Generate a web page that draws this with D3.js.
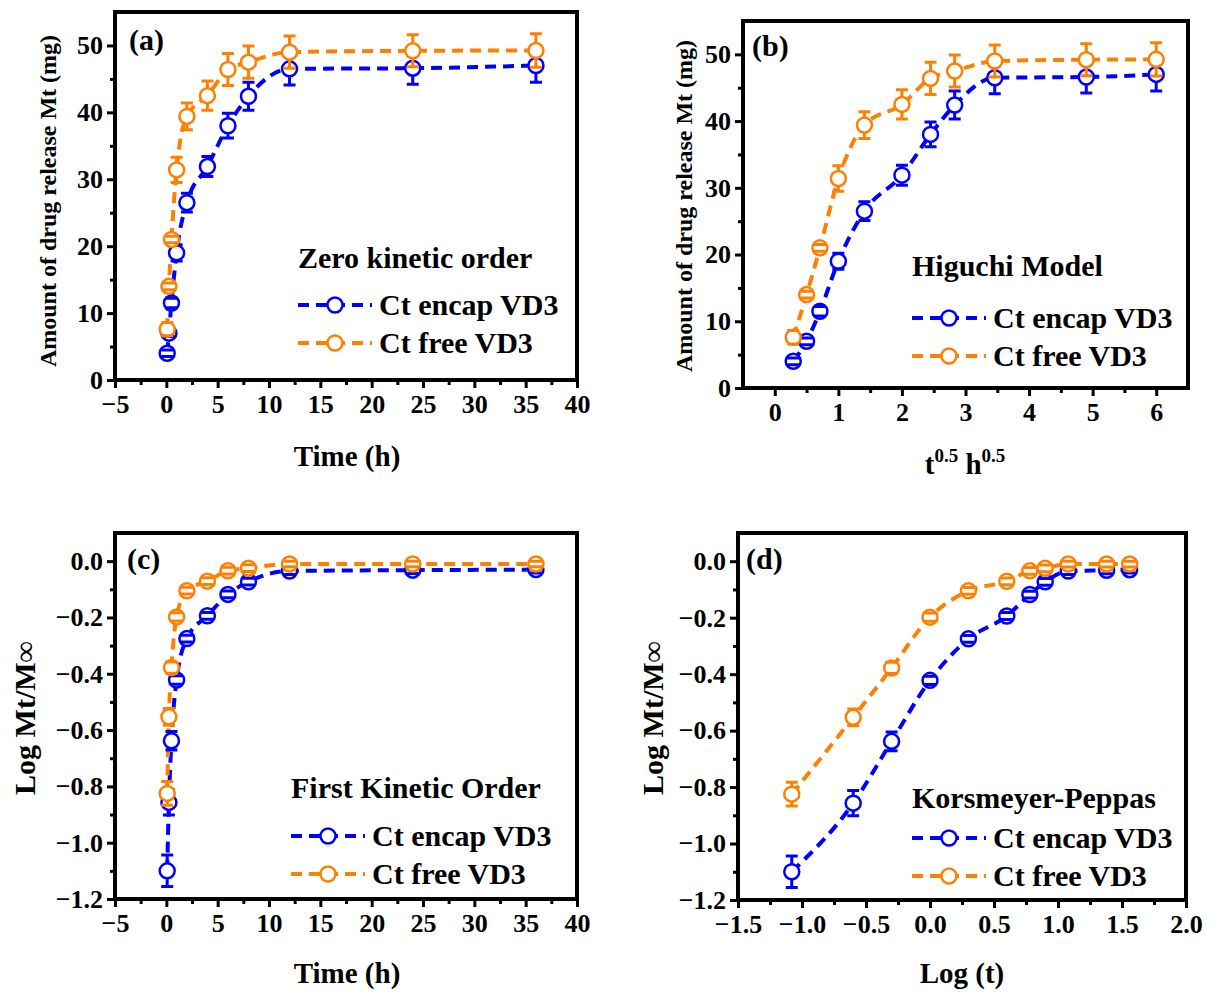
<!DOCTYPE html>
<html>
<head>
<meta charset="utf-8">
<script src="https://cdn.jsdelivr.net/npm/d3@7"></script>
<style>
  body { margin: 0; background: #fff; }
  text { font-family: "Liberation Serif", "Times New Roman", serif; font-weight: bold; fill: #000; }
</style>
</head>
<body>
<svg id="chart" width="1223" height="992"></svg>
<script>
// sampling times (h) and their transforms as plotted
var times = [0.083, 0.25, 0.5, 1, 2, 4, 6, 8, 12, 24, 36];
var sqrtTimes = [0.29, 0.5, 0.71, 1, 1.41, 2, 2.45, 2.83, 3.46, 4.9, 6];
var logTimes = [-1.08, -0.6, -0.3, 0, 0.3, 0.6, 0.78, 0.9, 1.08, 1.38, 1.56];

// amount released (mg)
var encapMt = [4, 7, 11.5, 19, 26.5, 31.9, 38, 42.4, 46.5, 46.6, 47];
var encapMtErr = [0.5, 0.5, 0.7, 1.2, 1.4, 1.5, 1.85, 2.1, 2.4, 2.4, 2.5];
var freeMt = [7.6, 14, 21, 31.4, 39.4, 42.5, 46.4, 47.5, 49, 49.2, 49.25];
var freeMtErr = [1, 0.5, 0.5, 1.9, 2, 2.2, 2.4, 2.4, 2.4, 2.4, 2.5];

// log Mt/Minf
var encapLog = [-1.10, -0.857, -0.638, -0.422, -0.275, -0.194, -0.118, -0.073, -0.035, -0.032, -0.03];
var encapLogErr = [0.056, 0.045, 0.033, 0.015, 0.012, 0.012, 0.012, 0.012, 0.012, 0.012, 0.012];
var freeLog = [-0.825, -0.553, -0.378, -0.198, -0.105, -0.071, -0.034, -0.025, -0.01, -0.01, -0.01];
var freeLogErr = [0.042, 0.03, 0.02, 0.015, 0.012, 0.012, 0.012, 0.012, 0.01, 0.01, 0.01];

var seriesNames = ["Ct encap VD3", "Ct free VD3"];
var colors = ["#0000ff", "#ff8000"];

var svg = d3.select("#chart");

function drawPanel(p) {
    var x = d3.scaleLinear().domain(p.xDomain).range([p.box[0], p.box[1]]);
    var y = d3.scaleLinear().domain(p.yDomain).range([p.box[3], p.box[2]]);
    var g = svg.append("g");

    // minor ticks
    g.append("g").attr("transform", "translate(0," + p.box[3] + ")")
        .call(d3.axisBottom(x).tickValues(p.xMinor).tickSize(5).tickFormat(""))
        .call(function (a) { a.select(".domain").remove(); a.selectAll("line").attr("stroke-width", 3); });
    g.append("g").attr("transform", "translate(" + p.box[0] + ",0)")
        .call(d3.axisLeft(y).tickValues(p.yMinor).tickSize(5).tickFormat(""))
        .call(function (a) { a.select(".domain").remove(); a.selectAll("line").attr("stroke-width", 3); });

    // major ticks
    g.append("g").attr("transform", "translate(0," + p.box[3] + ")")
        .call(d3.axisBottom(x).tickValues(p.xTicks).tickSize(8).tickPadding(7).tickFormat(p.xFormat))
        .call(function (a) {
            a.select(".domain").remove();
            a.selectAll("line").attr("stroke-width", 3);
            a.selectAll("text").style("font-size", "26px").style("font-family", "Liberation Serif").style("font-weight", "bold");
        });
    g.append("g").attr("transform", "translate(" + p.box[0] + ",0)")
        .call(d3.axisLeft(y).tickValues(p.yTicks).tickSize(8).tickPadding(4).tickFormat(p.yFormat))
        .call(function (a) {
            a.select(".domain").remove();
            a.selectAll("line").attr("stroke-width", 3);
            a.selectAll("text").style("font-size", "26px").style("font-family", "Liberation Serif").style("font-weight", "bold");
        });

    // frame
    g.append("rect")
        .attr("x", p.box[0]).attr("y", p.box[2])
        .attr("width", p.box[1] - p.box[0]).attr("height", p.box[3] - p.box[2])
        .attr("fill", "none").attr("stroke", "#000").attr("stroke-width", 4);

    var line = d3.line()
        .x(function (d) { return x(d[0]); })
        .y(function (d) { return y(d[1]); })
        .curve(d3.curveMonotoneX);

    var r = 7.5;
    p.series.forEach(function (s, k) {
        var pts = p.xs.map(function (v, i) { return [v, s.vals[i], s.err[i]]; });
        g.append("path").datum(pts)
            .attr("d", line).attr("fill", "none")
            .attr("stroke", colors[k]).attr("stroke-width", 4)
            .attr("stroke-dasharray", "11,7");
    });
    p.series.forEach(function (s, k) {
        var pts = p.xs.map(function (v, i) { return [v, s.vals[i], s.err[i]]; });
        var pg = g.append("g").selectAll("g").data(pts).enter().append("g");
        pg.append("circle")
            .attr("cx", function (d) { return x(d[0]); })
            .attr("cy", function (d) { return y(d[1]); })
            .attr("r", r).attr("fill", "#fff")
            .attr("stroke", colors[k]).attr("stroke-width", 2.5);
        // error bar caps, stems drawn outside the symbol
        pg.append("path")
            .attr("d", function (d) {
                var cx = x(d[0]), cy = y(d[1]);
                var top = y(d[1] + d[2]), bot = y(d[1] - d[2]);
                var s = "M" + (cx - 6) + "," + top + "H" + (cx + 6) + "M" + (cx - 6) + "," + bot + "H" + (cx + 6);
                if (cy - top > r) s += "M" + cx + "," + top + "V" + (cy - r) + "M" + cx + "," + (cy + r) + "V" + bot;
                return s;
            })
            .attr("fill", "none").attr("stroke", colors[k]).attr("stroke-width", 3);
    });

    // panel letter
    g.append("text").attr("x", p.letterPos[0]).attr("y", p.letterPos[1])
        .style("font-size", "30px").text(p.letter);

    // axis titles (second item of each part: 1 = superscript)
    var xt = g.append("text").attr("x", p.xTitlePos[0]).attr("y", p.xTitlePos[1])
        .attr("text-anchor", "middle").style("font-size", "29px");
    var raised = false;
    p.xTitle.forEach(function (part) {
        var dy = 0;
        if (part[1] && !raised) { dy = -12; raised = true; }
        else if (!part[1] && raised) { dy = 12; raised = false; }
        xt.append("tspan").text(part[0])
            .style("font-size", part[1] ? "19px" : "29px")
            .attr("dy", dy);
    });
    g.append("text")
        .attr("transform", "translate(" + p.yTitlePos[0] + "," + p.yTitlePos[1] + ") rotate(-90)")
        .attr("text-anchor", "middle").style("font-size", p.yTitleSize + "px")
        .text(p.yTitle);

    // legend
    var lg = p.legend;
    g.append("text").attr("x", lg.x).attr("y", lg.titleY)
        .style("font-size", "30px").text(p.model);
    seriesNames.forEach(function (name, k) {
        var ly = lg.y0 + k * lg.dy;
        g.append("line").attr("x1", lg.x).attr("x2", lg.x + 74)
            .attr("y1", ly).attr("y2", ly)
            .attr("stroke", colors[k]).attr("stroke-width", 4).attr("stroke-dasharray", "11,7");
        g.append("circle").attr("cx", lg.x + 37).attr("cy", ly).attr("r", r)
            .attr("fill", "#fff").attr("stroke", colors[k]).attr("stroke-width", 2.5);
        g.append("text").attr("x", lg.x + 81).attr("y", ly + 10)
            .style("font-size", "30px").text(name);
    });
}

var fmtInt = d3.format("d");
var fmt1 = d3.format(".1f");

drawPanel({
    box: [115, 577, 12, 380],
    xDomain: [-5, 40], yDomain: [0, 55],
    xTicks: d3.range(-5, 41, 5), xMinor: d3.range(-2.5, 40, 5),
    yTicks: d3.range(0, 51, 10), yMinor: d3.range(5, 55, 10),
    xFormat: fmtInt, yFormat: fmtInt,
    xs: times,
    series: [{ vals: encapMt, err: encapMtErr }, { vals: freeMt, err: freeMtErr }],
    letter: "(a)", letterPos: [129, 50],
    xTitle: [["Time (h)", 0]], xTitlePos: [347, 466],
    yTitle: "Amount of drug release Mt (mg)", yTitleSize: 24, yTitlePos: [56, 201],
    model: "Zero kinetic order",
    legend: { x: 298, titleY: 268, y0: 305, dy: 38 }
});

drawPanel({
    box: [743, 1188, 21, 388],
    xDomain: [-0.5, 6.5], yDomain: [0, 55],
    xTicks: d3.range(0, 7, 1), xMinor: d3.range(0.5, 6.5, 1),
    yTicks: d3.range(0, 51, 10), yMinor: d3.range(5, 55, 10),
    xFormat: fmtInt, yFormat: fmtInt,
    xs: sqrtTimes,
    series: [{ vals: encapMt, err: encapMtErr }, { vals: freeMt, err: freeMtErr }],
    letter: "(b)", letterPos: [752, 56],
    xTitle: [["t", 0], ["0.5", 1], [" h", 0], ["0.5", 1]], xTitlePos: [965, 474],
    yTitle: "Amount of drug release Mt (mg)", yTitleSize: 24, yTitlePos: [692, 206],
    model: "Higuchi Model",
    legend: { x: 912, titleY: 276, y0: 318, dy: 38 }
});

drawPanel({
    box: [115, 577, 533, 899],
    xDomain: [-5, 40], yDomain: [-1.2, 0.1],
    xTicks: d3.range(-5, 41, 5), xMinor: d3.range(-2.5, 40, 5),
    yTicks: [-1.2, -1.0, -0.8, -0.6, -0.4, -0.2, 0.0], yMinor: [-1.1, -0.9, -0.7, -0.5, -0.3, -0.1],
    xFormat: fmtInt, yFormat: fmt1,
    xs: times,
    series: [{ vals: encapLog, err: encapLogErr }, { vals: freeLog, err: freeLogErr }],
    letter: "(c)", letterPos: [127, 569],
    xTitle: [["Time (h)", 0]], xTitlePos: [347, 983],
    yTitle: "Log Mt/M\u221E", yTitleSize: 30, yTitlePos: [35, 718],
    model: "First Kinetic Order",
    legend: { x: 291, titleY: 798, y0: 836, dy: 38 }
});

drawPanel({
    box: [738, 1186, 533, 900],
    xDomain: [-1.5, 2.0], yDomain: [-1.2, 0.1],
    xTicks: d3.range(-1.5, 2.01, 0.5), xMinor: d3.range(-1.25, 2, 0.5),
    yTicks: [-1.2, -1.0, -0.8, -0.6, -0.4, -0.2, 0.0], yMinor: [-1.1, -0.9, -0.7, -0.5, -0.3, -0.1],
    xFormat: fmt1, yFormat: fmt1,
    xs: logTimes,
    series: [{ vals: encapLog, err: encapLogErr }, { vals: freeLog, err: freeLogErr }],
    letter: "(d)", letterPos: [746, 569],
    xTitle: [["Log (t)", 0]], xTitlePos: [962, 983],
    yTitle: "Log Mt/M\u221E", yTitleSize: 30, yTitlePos: [663, 718],
    model: "Korsmeyer-Peppas",
    legend: { x: 912, titleY: 808, y0: 838, dy: 38 }
});
</script>
</body>
</html>
